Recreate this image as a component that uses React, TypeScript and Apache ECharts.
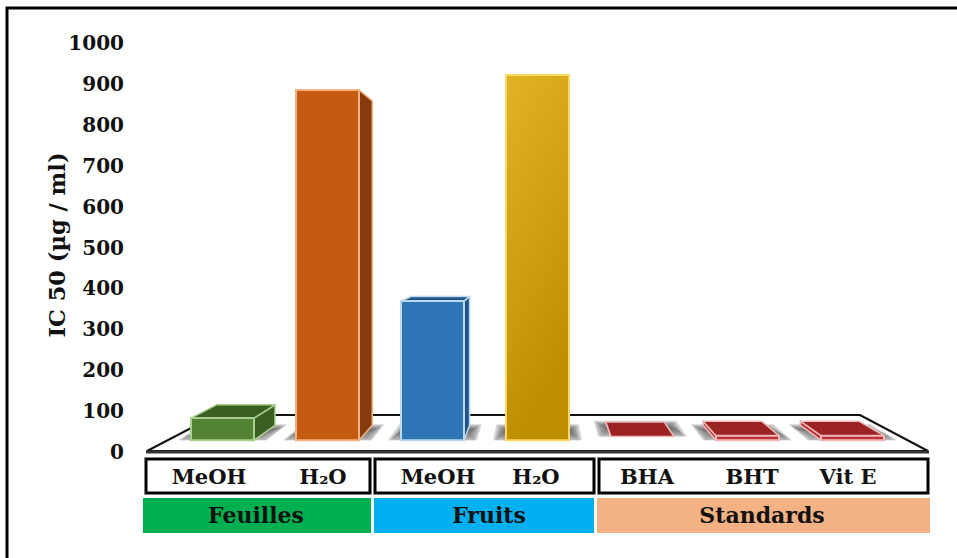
import React, { useEffect, useRef } from "react";
import * as echarts from "echarts";

// IC 50 per extract, read on the value axis at the front top edge of each bar
const categories = ["MeOH", "H₂O", "MeOH", "H₂O", "BHA", "BHT", "Vit E"];
const values = [83, 885, 369, 922, 38, 40, 40];
// Level at which each bar meets the floor, on the same axis
const floorLevels = [29, 29, 29, 29, 38, 29, 29];
const yTicks = [0, 100, 200, 300, 400, 500, 600, 700, 800, 900, 1000];
const groups = ["Feuilles", "Fruits", "Standards"];
const yTitle = "IC 50 (µg / ml)";

const FONT = "DejaVu Serif";
const INK = "#111111";

// Perspective: every bar corner recedes toward one vanishing point
const VP_X = 540;
const VP_Y = 238;
const DEPTH = 0.0734;
const back = (p: number[]) => [p[0] + (VP_X - p[0]) * DEPTH, p[1] + (VP_Y - p[1]) * DEPTH];

type Skin = { front: any; dark: string; edge: string };
const gold = new echarts.graphic.LinearGradient(0, 0, 0.3, 1, [
  { offset: 0, color: "#E3B325" },
  { offset: 1, color: "#BD8F00" },
]);
const red: Skin = { front: "#C0323A", dark: "#9C2323", edge: "#EFB9B9" };
const skins: Skin[] = [
  { front: "#548235", dark: "#3B5E23", edge: "#A9D18E" },
  { front: "#C55A11", dark: "#843C0C", edge: "#F4B183" },
  { front: "#2E75B6", dark: "#1F5487", edge: "#BDD7EE" },
  { front: gold, dark: "#9C7600", edge: "#FFD966" },
  red,
  red,
  red,
];

const labelCentres = [209, 323, 438, 536, 647, 752, 848];
const groupBands = [
  { x: 143, w: 228, fill: "#00B050", box: [146, 224], text: 256 },
  { x: 374, w: 220, fill: "#00B0F0", box: [375, 219], text: 489 },
  { x: 597, w: 333, fill: "#F4B183", box: [599, 329], text: 762 },
];

// Stacked translucent outlines give the floor shadow its soft edge
const shadowSpread = [13, 11, 9, 7, 5, 3];

function renderBar(params: any, api: any) {
  const i = params.dataIndex;
  const skin = skins[i];
  const centre = api.coord([api.value(0), api.value(1)]);
  const base = api.coord([api.value(0), api.value(2)]);
  const w = api.size([1, 0])[0] * 0.6;
  const l = centre[0] - w / 2;
  const r = centre[0] + w / 2;
  const top = centre[1];
  const bottom = base[1];
  const children: any[] = [];
  const poly = (points: number[][], fill: any, stroke = skin.edge, lineWidth = 1.5) => ({
    type: "polygon",
    shape: { points },
    style: { fill, stroke, lineWidth, lineJoin: "round" },
  });

  shadowSpread.forEach((pad) => {
    const floorFront = Math.min(bottom, bottom + (pad - 11));
    const floorBack = bottom + (11 - pad) * 0.6;
    children.push({
      type: "polygon",
      shape: {
        points: [
          [l - pad, floorFront],
          [r + pad, floorFront],
          back([r + pad, floorBack]),
          back([l - pad, floorBack]),
        ],
      },
      style: { fill: "#4a4a4a", opacity: 0.22 },
    });
  });
  if (r < VP_X) {
    children.push(poly([[r, top], back([r, top]), back([r, bottom]), [r, bottom]], skin.dark));
  }
  if (l > VP_X) {
    children.push(poly([[l, top], back([l, top]), back([l, bottom]), [l, bottom]], skin.front));
  }
  if (top > VP_Y) {
    children.push(poly([[l, top], [r, top], back([r, top]), back([l, top])], skin.dark));
  }
  if (bottom - top > 0.5) {
    children.push({
      type: "rect",
      shape: { x: l, y: top, width: w, height: bottom - top },
      style: { fill: skin.front, stroke: skin.edge, lineWidth: 2 },
    });
  }
  return { type: "group", children };
}

const tableGraphics = () => {
  const items: any[] = [
    // outer frame, open to the right and bottom
    { type: "polyline", z: 1, shape: { points: [[7, 558], [7, 8], [957, 8]] }, style: { fill: "none", stroke: "#000", lineWidth: 3 } },
    // chart floor
    {
      type: "polygon",
      z: 1,
      shape: { points: [[147, 451], [216, 415], [860, 415], [928, 451]] },
      style: { fill: "#fff", stroke: "#111", lineWidth: 2 },
    },
    { type: "line", z: 1, shape: { x1: 146, y1: 452, x2: 929, y2: 452 }, style: { stroke: "#333", lineWidth: 3 } },
    // value axis title
    {
      type: "text",
      z: 2,
      x: 57,
      y: 245,
      rotation: Math.PI / 2,
      style: { text: yTitle, font: `bold 22.5px "${FONT}"`, fill: INK, textAlign: "center", textVerticalAlign: "middle" },
    },
  ];
  groupBands.forEach((band, i) => {
    items.push({
      type: "rect",
      z: 1,
      shape: { x: band.box[0], y: 459, width: band.box[1], height: 34 },
      style: { fill: "#fff", stroke: "#000", lineWidth: 3 },
    });
    items.push({ type: "rect", z: 1, shape: { x: band.x, y: 498, width: band.w, height: 35 }, style: { fill: band.fill } });
    items.push({
      type: "text",
      z: 2,
      x: band.text,
      y: 515,
      style: { text: groups[i], font: `bold 22px "${FONT}"`, fill: INK, textAlign: "center", textVerticalAlign: "middle" },
    });
  });
  categories.forEach((name, i) => {
    items.push({
      type: "text",
      z: 2,
      x: labelCentres[i],
      y: 476,
      style: { text: name, font: `bold 21px "${FONT}"`, fill: INK, textAlign: "center", textVerticalAlign: "middle" },
    });
  });
  return items;
};

export default function App() {
  const ref = useRef<HTMLDivElement>(null);
  useEffect(() => {
    const chart = echarts.init(ref.current!, undefined, { renderer: "svg" });
    chart.setOption({
      animation: false,
      backgroundColor: "#ffffff",
      grid: { left: 170, right: 52, top: 43, bottom: 106 },
      xAxis: { type: "category", data: categories.map((c, i) => `${c}-${i}`), show: false },
      yAxis: {
        type: "value",
        min: yTicks[0],
        max: yTicks[yTicks.length - 1],
        interval: yTicks[1] - yTicks[0],
        axisLine: { show: false },
        axisTick: { show: false },
        splitLine: { show: false },
        axisLabel: { margin: 46, fontFamily: FONT, fontWeight: "bold", fontSize: 20, color: INK, formatter: (v: number) => String(v) },
      },
      graphic: { elements: tableGraphics() },
      series: [
        {
          type: "custom",
          z: 5,
          clip: false,
          renderItem: renderBar,
          encode: { x: 0, y: 1 },
          data: values.map((v, i) => [i, v, floorLevels[i]]),
        },
      ],
    });
    return () => chart.dispose();
  }, []);
  return <div ref={ref} style={{ position: "fixed", left: 0, top: 0, width: 957, height: 558 }} />;
}
